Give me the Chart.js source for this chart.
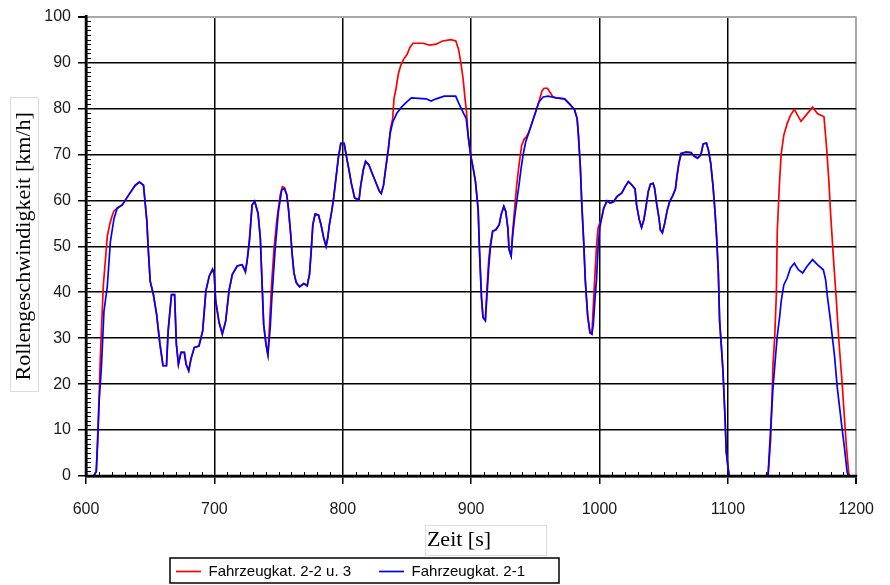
<!DOCTYPE html>
<html>
<head>
<meta charset="utf-8">
<script src="https://cdn.jsdelivr.net/npm/chart.js@4/dist/chart.umd.min.js"></script>
<style>
  html, body { margin: 0; padding: 0; background: #ffffff; }
  canvas { display: block; }
</style>
</head>
<body>
<canvas id="c" width="890" height="585"></canvas>
<script>
// ---- data ----
const seriesLabels = ['Fahrzeugkat. 2-2 u. 3', 'Fahrzeugkat. 2-1'];
const xAxisTitle = 'Zeit [s]';
const yAxisTitle = 'Rollengeschwindigkeit [km/h]';
const xTickValues = [600, 700, 800, 900, 1000, 1100, 1200];
const yTickValues = [0, 10, 20, 30, 40, 50, 60, 70, 80, 90, 100];

// Fahrzeugkat. 2-1 (blue)
const blueTime = [
  606,608,609,610.3,612,614,616.6,619,621.8,624.3,
  628.2,633.3,638.4,641.7,644.8,646,647.4,648.6,650,652.5,
  655,657.6,660,662.7,664,666.6,669,670.4,672,674,
  676.6,678,680,681.8,684.4,688,690.9,693.4,696,698.6,
  699.9,701,703.7,706.2,708.8,711.4,714,717.8,721.6,724.2,
  725.5,727.3,729.4,731.4,734,735.8,737,738.4,740.2,741.7,
  743.5,744.8,747.4,749.9,752.5,754.6,756.4,757.7,759.5,760.5,
  762,763.8,766.4,769.7,772.3,774.1,775.4,776.7,778.5,781.1,
  783.1,785.2,787,788.3,789.6,791.4,792.9,794.7,796.5,798.5,
  801.1,802.9,804.9,806.7,809.3,812.7,813.9,816,817.8,820.4,
  822.9,825.5,828.5,830,831.8,833.5,835.6,836.9,838.9,842,
  845.8,849.7,853.5,865,868.9,872.7,879.1,888,890.6,893.7,
  896.2,897.8,899.6,901.6,903.4,905.5,906.5,908.1,909.3,911.1,
  912.4,913.7,915,916.8,919.3,921.9,923.4,925.5,927,928.6,
  929.6,931.2,932.2,933.7,935.5,937.3,938.9,940.7,942.5,945.1,
  947.6,950.2,952.8,956.1,960,966.4,972.8,976.6,980.5,982.6,
  983.6,985.1,986.2,987.7,989,990.8,992.6,994.1,995.2,996.5,
  997.7,998.9,1000.2,1002,1003.3,1005.9,1008.4,1011,1013.6,1017.4,
  1020,1022.5,1025.1,1027.7,1028.9,1031,1032.8,1034.6,1036.1,1038,
  1039.7,1041.8,1043,1044.3,1046.4,1047.4,1049,1050.8,1052.6,1054.6,
  1057.2,1059.2,1060.3,1061.8,1063.6,1067.4,1071.3,1073.9,1076.4,1079,
  1080.8,1083.3,1084.9,1086.7,1088.5,1090,1091.3,1092.6,1093.6,1095.2,
  1096.2,1097.8,1098.8,1100.1,1101,1131.3,1133.4,1135.2,1137,1138.5,
  1140.3,1141.6,1143.6,1146.2,1148.8,1151.8,1154.9,1158.3,1161.6,1166,
  1169.8,1174.4,1176.2,1177.5,1179.5,1181.3,1183.1,1185.2,1187.2,1189,
  1190.8,1192.9,1194
];
const blueSpeed = [
  0,1,6.7,16.5,23.7,35.9,41.3,51,56,58.3,
  59,61.2,63.3,64,63.3,59.7,55.5,48.9,42.4,39.5,
  35.2,28.7,24,24,31.6,39.5,39.5,28.7,24.3,26.9,
  26.9,24.3,22.9,25.5,28,28.3,31.6,40.3,43.5,45,
  43.9,38.1,33.4,30.9,33.7,40.3,43.9,45.7,46,44.6,
  46.8,51,59,59.8,57.2,51.8,43.1,33,28.7,26.4,
  32.3,38.8,49.6,57.6,62.3,62.6,61.2,58.2,52.5,48.6,
  44.2,42.1,41.2,41.9,41.4,43.9,48.9,54.7,57,56.8,
  54.7,51.8,50,51.8,54.7,57.6,60.5,64.8,69.1,72.4,
  72.4,69.5,66.6,63.7,60.5,60.1,63,66.6,68.5,67.7,
  65.9,64.1,62,61.5,63.3,67,71.3,74.5,77,78.9,
  80.3,81.4,82.3,82.1,81.6,82.1,82.7,82.7,81,79.2,
  77.8,73.8,69.9,67,64.1,58,49.3,38.8,34.5,33.8,
  39.5,45.3,49.7,53.3,53.6,54.7,56.9,58.7,57.6,54,
  49.3,47.9,51.8,55.8,59.7,63.3,66.9,70.2,72.7,74.9,
  77,79.2,81.4,82.5,82.7,82.3,82.1,81,79.8,77.8,
  74.2,67.3,59.4,51.1,42.4,34.9,31.2,30.9,33,38.5,
  42.8,49.7,54,56.5,58.3,59.9,59.4,59.7,60.8,61.6,
  63,64.1,63.4,62.5,59,55.8,54.1,55.8,58.3,61.9,
  63.5,63.7,62.6,59.7,56.1,53.6,52.9,55,57.6,59.7,
  61.1,62.5,65.1,68,70.2,70.5,70.4,69.6,69.2,69.9,
  72.3,72.5,70.9,68,63,57.6,51.8,44.2,33.7,27.3,
  22.9,12.8,5.2,2,0,0,10.6,19.3,25.5,30.5,
  34.5,38.1,41.6,43.1,45.3,46.3,44.9,44.2,45.6,47.1,
  46,44.9,42.7,39.2,34.9,30.5,26.2,19.4,14.6,10.3,
  6.3,0.9,0
];

// Fahrzeugkat. 2-2 u. 3 (red)
const redTime = [
  606,608,609,610.3,611.2,612,613.5,615.4,616.6,618.6,
  620.4,621.8,624.3,628.2,633.3,638.4,641.7,644.8,646,647.4,
  648.6,650,652.5,655,657.6,660,662.7,664,666.6,669,
  670.4,672,674,676.6,678,680,681.8,684.4,688,690.9,
  693.4,696,698.6,699.9,701,703.7,706.2,708.8,711.4,714,
  717.8,721.6,724.2,725.5,727.3,729.4,731.4,734,735.8,737,
  738.4,740.2,741.7,743,744.5,746.5,748.7,751.3,753,754.6,
  756.4,757.7,759.5,760.5,762,763.8,766.4,769.7,772.3,774.1,
  775.4,776.7,778.5,781.1,783.1,785.2,787,788.3,789.6,791.4,
  792.9,794.7,796.5,798.5,801.1,802.9,804.9,806.7,809.3,812.7,
  813.9,816,817.8,820.4,822.9,825.5,828.5,830,831.8,833.5,
  835.6,837.2,838.9,839.9,841.5,843.3,845.1,847.6,850.2,852.3,
  854.8,862.5,867.6,872.7,877.8,884.3,888.1,890.2,892,893.8,
  895.3,896.3,897.8,899.6,901.6,903.4,905.5,906.5,908.1,909.3,
  911.1,912.4,913.7,915,916.8,919.3,921.9,923.4,925.5,927,
  928.6,929.6,931.2,932.2,933.7,935.5,937.3,939.4,941.5,943,
  945.1,947.6,950.2,952.8,953.5,955.3,956.9,959.5,961.3,963.8,
  966.4,972.8,976.6,980.5,982.6,983.6,985.1,986.2,987.7,989,
  990.8,992.6,994.1,995.2,996.5,997.7,998.9,1000.2,1002,1003.3,
  1005.9,1008.4,1011,1013.6,1017.4,1020,1022.5,1025.1,1027.7,1028.9,
  1031,1032.8,1034.6,1036.1,1038,1039.7,1041.8,1043,1044.3,1046.4,
  1047.4,1049,1050.8,1052.6,1054.6,1057.2,1059.2,1060.3,1061.8,1063.6,
  1067.4,1071.3,1073.9,1076.4,1079,1080.8,1083.3,1084.9,1086.7,1088.5,
  1090,1091.3,1092.6,1093.6,1095.2,1096.2,1097.8,1098.8,1100.1,1101,
  1131.3,1133.4,1135.2,1136.5,1137.8,1138.5,1140.3,1141.6,1143.6,1146.2,
  1148.8,1151.8,1154.4,1157,1160.8,1166,1169.8,1174.9,1177,1178.8,
  1180.1,1182.6,1184.4,1186.5,1189,1190.8,1192.4,1194.2,1195
];
const redSpeed = [
  0,1,8,18,26,31.6,41.5,48,52.2,54.9,
  56.7,57.7,58.3,59,61.2,63.3,64,63.3,59.7,55.5,
  48.9,42.4,39.5,35.2,28.7,24,24,31.6,39.5,39.5,
  28.7,24.3,26.9,26.9,24.3,22.9,25.5,28,28.3,31.6,
  40.3,43.5,45,43.9,38.1,33.4,30.9,33.7,40.3,43.9,
  45.7,46,44.3,46.8,51.5,59,59.8,57.2,51.8,43.1,
  33,28.7,26.4,33,41.4,49.6,55.8,61.2,63,62.8,
  61.2,58.2,52.5,48.6,44.2,42.1,41.2,41.9,41.4,43.9,
  48.9,54.7,57,56.8,54.7,51.8,50,51.8,54.7,57.6,
  60.5,64.8,69.1,72.4,72.4,69.5,66.6,63.7,60.5,60.1,
  63,66.6,68.5,67.7,65.9,64.1,62,61.5,63.3,67,
  71.3,75.6,77.7,82.1,84.3,87.5,89.3,90.8,91.8,93.3,
  94.2,94.2,93.8,94,94.7,95,94.7,92.9,90,86.4,
  82.1,79.6,73.8,69.9,67,64.1,58,49.3,38.8,34.5,
  34,41,47,50.5,53.3,53.6,54.7,56.9,58.7,57.6,
  54,49.3,47.9,52.5,57.5,63.3,67.6,72,73.4,73.8,
  74.9,77,79.2,81.4,82.1,83.9,84.4,84.4,83.6,82.5,
  82.3,82.1,81,79.8,77.8,74.2,67.3,59.4,51.1,42.4,
  34.9,31.2,30.9,37,44,50,54,55,56.5,58.3,
  59.9,59.4,59.7,60.8,61.6,63,64.1,63.4,62.5,59,
  55.8,54.1,55.8,58.3,61.9,63.5,63.7,62.6,59.7,56.1,
  53.6,52.9,55,57.6,59.7,61.1,62.5,65.1,68,70.2,
  70.5,70.4,69.6,69.2,69.9,72.3,72.5,70.9,68,63,
  57.6,51.8,44.2,33.7,27.3,22.9,12.8,5.2,2,0,
  0,8,24.4,30.2,39.6,53.3,64.1,70.2,74.2,76.7,
  78.5,79.8,78.5,77.2,78.5,80.3,78.9,78.2,71.3,63.7,
  56.9,46,38.8,29.4,20.4,12.8,6.3,0.6,0
];

// ---- chart ----
const toPoints = (ts, vs) => ts.map((t, i) => ({ x: t, y: vs[i] }));

const decor = {
  id: 'decor',
  afterLayout(chart) {
    const lg = chart.legend;
    if (lg) { lg.left = 148; lg.top = 536; }
    const xs = chart.scales.x;
    if (xs && !xs._shifted) {
      const orig = xs.drawTitle;
      xs.drawTitle = function () {
        const c = this.ctx;
        c.save();
        const dx = 459 - (this.left + this.right) / 2;
        const dy = 540 - (this.bottom - 13.2);
        c.translate(dx, dy);
        orig.call(this);
        c.restore();
      };
      xs._shifted = true;
    }
  },
  beforeDatasetsDraw(chart) {
    const { ctx, chartArea: a, scales: { x, y } } = chart;
    ctx.save();
    ctx.strokeStyle = '#000';
    ctx.lineWidth = 1;
    ctx.beginPath();
    for (let v = 0; v <= 100; v += 1) {
      if (v % 10 === 0) continue;
      const py = Math.round(y.getPixelForValue(v)) + 0.5;
      ctx.moveTo(a.left, py); ctx.lineTo(a.left + 5, py);
    }
    for (let t = 600; t <= 1200; t += 10) {
      if (t % 100 === 0) continue;
      const px = Math.round(x.getPixelForValue(t)) + 0.5;
      ctx.moveTo(px, a.bottom); ctx.lineTo(px, a.bottom - 4);
    }
    ctx.stroke();
    ctx.restore();
  },
  afterDatasetsDraw(chart) {
    const { ctx, chartArea: a } = chart;
    ctx.save();
    ctx.strokeStyle = '#000';
    ctx.lineWidth = 2.5;
    ctx.beginPath();
    ctx.moveTo(a.left, a.top - 1); ctx.lineTo(a.left, a.bottom + 1);
    ctx.moveTo(a.left - 1, a.bottom); ctx.lineTo(a.right + 1, a.bottom);
    ctx.stroke();
    ctx.restore();
  },
  afterDraw(chart) {
    const ctx = chart.ctx;
    ctx.save();
    // axis title frames
    ctx.strokeStyle = '#dcdcdc';
    ctx.lineWidth = 1;
    ctx.strokeRect(10.5, 97.5, 28, 294);
    ctx.strokeRect(425.5, 525.5, 121, 30);
    // legend frame
    ctx.strokeStyle = '#000';
    ctx.lineWidth = 1.5;
    ctx.strokeRect(170, 558, 389, 25);
    ctx.restore();
  }
};

const tickFont = { family: "'Liberation Sans', Arial, sans-serif", size: 16 };
const titleFont = { family: "'Liberation Serif', 'Times New Roman', serif", size: 22 };
const plainLabel = v => String(v);

new Chart(document.getElementById('c'), {
  type: 'line',
  data: {
    datasets: [
      {
        label: seriesLabels[0],
        data: toPoints(redTime, redSpeed),
        borderColor: '#ff0000',
        backgroundColor: '#ff0000',
        borderWidth: 1.7,
        pointRadius: 0,
        tension: 0,
        order: 1
      },
      {
        label: seriesLabels[1],
        data: toPoints(blueTime, blueSpeed),
        borderColor: '#0000ff',
        backgroundColor: '#0000ff',
        borderWidth: 1.7,
        pointRadius: 0,
        tension: 0,
        order: 0
      }
    ]
  },
  options: {
    responsive: false,
    animation: false,
    devicePixelRatio: 1,
    events: [],
    layout: { padding: { left: 0, right: 24, top: 15, bottom: 0 } },
    plugins: {
      tooltip: { enabled: false },
      legend: {
        position: 'bottom',
        align: 'start',
        labels: {
          usePointStyle: true,
          pointStyle: 'line',
          pointStyleWidth: 25,
          padding: 28,
          color: '#000',
          font: { family: "'Liberation Sans', Arial, sans-serif", size: 15 },
          sort: (a, b) => a.datasetIndex - b.datasetIndex
        }
      }
    },
    scales: {
      x: {
        type: 'linear',
        min: 600,
        max: 1200,
        afterBuildTicks: s => { s.ticks = xTickValues.map(v => ({ value: v })); },
        afterFit: s => { s.height = 585 - 476 - s.chart.legend.height; },
        ticks: { color: '#1a1a1a', font: tickFont, padding: 16, maxRotation: 0, callback: plainLabel },
        grid: {
          color: c => (c.tick && c.tick.value === 1200) ? '#a8a8a8' : '#000',
          lineWidth: c => (c.tick && c.tick.value === 1200) ? 2 : 1.5,
          tickColor: '#000',
          tickLength: 8
        },
        border: { color: '#000', width: 2.5 },
        title: { display: true, text: xAxisTitle, color: '#000', font: titleFont, padding: 0 }
      },
      y: {
        type: 'linear',
        min: 0,
        max: 100,
        afterBuildTicks: s => { s.ticks = yTickValues.map(v => ({ value: v })); },
        afterFit: s => { s.width = 86; },
        ticks: { color: '#1a1a1a', font: tickFont, padding: 7, callback: plainLabel },
        grid: {
          color: c => (c.tick && c.tick.value === 100) ? '#a8a8a8' : '#000',
          lineWidth: c => (c.tick && c.tick.value === 100) ? 2 : 1.5,
          tickColor: '#000',
          tickLength: 8
        },
        border: { color: '#000', width: 2.5 },
        title: { display: true, text: yAxisTitle, color: '#000', font: titleFont, padding: { top: 11, bottom: 0 } }
      }
    }
  },
  plugins: [decor]
});
</script>
</body>
</html>
